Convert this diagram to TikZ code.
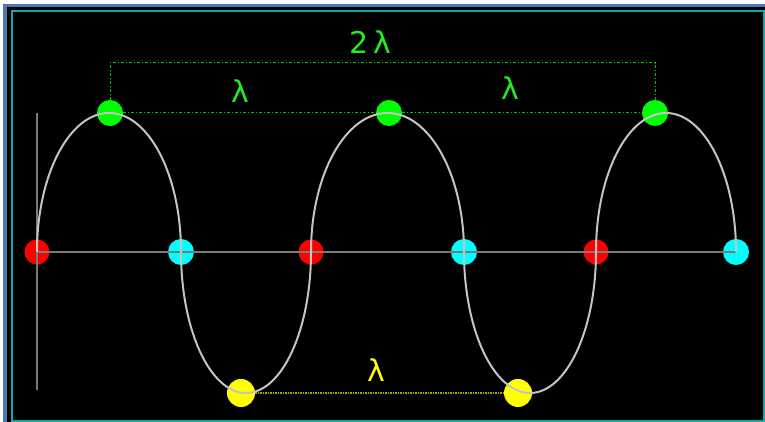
\documentclass[tikz,border=0pt]{standalone}
\usepackage{fontspec}
\newfontfamily\lamfont{DejaVu Sans}
\definecolor{frameblue}{HTML}{4A78B0}
\definecolor{framecyan}{HTML}{10A8A8}
\definecolor{curvegray}{HTML}{C4C4C4}
\definecolor{axisgray}{HTML}{7A7A7A}
\definecolor{dotred}{HTML}{FF0000}
\definecolor{dotcyan}{HTML}{00FFFF}
\definecolor{dotgreen}{HTML}{00FF00}
\definecolor{dotyellow}{HTML}{FFFF00}
\definecolor{linegreen}{HTML}{00C800}
\definecolor{lineyellow}{HTML}{A8A800}
\definecolor{txtgreen}{HTML}{22EE22}
\tikzset{
  dot/.style={circle,inner sep=0pt,minimum size=25pt},
  reddot/.style={dot,fill=dotred},
  cyandot/.style={dot,fill=dotcyan,minimum size=26pt},
  greendot/.style={dot,fill=dotgreen,minimum size=26pt},
  yellowdot/.style={dot,fill=dotyellow,minimum size=28pt},
  wave/.style={draw=curvegray,line width=2pt},
  axisline/.style={draw=axisgray,line width=1.3pt},
  gline/.style={draw=linegreen,line width=1pt,dash pattern=on 3pt off 2pt on 1pt off 2pt},
  yline/.style={draw=lineyellow,line width=1.2pt,dash pattern=on 1.5pt off 1pt},
  lbl/.style={font=\lamfont\fontsize{30}{30}\selectfont,inner sep=0pt},
}
\begin{document}
\begin{tikzpicture}[x=1pt,y=1pt]
\useasboundingbox (0,0) rectangle (765,422);
% frame
\fill[white] (0,0) rectangle (765,422);
\fill[frameblue] (3,0) rectangle (765,418);
\fill[black] (7,0) rectangle (765,415);
\draw[framecyan,line width=1.2pt] (12,1) rectangle (764,411);
% coordinates
\coordinate (top) at (0,359);
\coordinate (va) at (37,309);
\coordinate (vb) at (37,32);
% dots
\node[greendot] (g1) at (110,309) {};
\node[greendot] (g2) at (389,309) {};
\node[greendot] (g3) at (655,309) {};
\node[yellowdot] (y1) at (241,29) {};
\node[yellowdot] (y2) at (518,29) {};
% guides
\draw[gline] (g1.north) -- (g1 |- top) -- (g3 |- top) -- (g3.north);
\draw[gline] (g1.east) -- (g2.west);
\draw[gline] (g2.east) -- (g3.west);
\draw[yline] (y1.east) -- (y2.west);
\node[reddot] (r1) at (37,170) {};
\node[reddot] (r2) at (311,170) {};
\node[reddot] (r3) at (596,170) {};
\node[cyandot] (c1) at (181,170) {};
\node[cyandot] (c2) at (464,170) {};
\node[cyandot] (c3) at (736,170) {};
% axes
\draw[axisline] (r1.center) -- (c3.center);
\draw[axisline] (va) -- (vb);
% wave
\draw[wave] (r1.center)
  arc[start angle=180,end angle=0,x radius=72,y radius=139]
  arc[start angle=180,end angle=360,x radius=65,y radius=141]
  arc[start angle=180,end angle=0,x radius=76.5,y radius=139]
  arc[start angle=180,end angle=360,x radius=66,y radius=141]
  arc[start angle=180,end angle=0,x radius=70,y radius=139];
% labels
\node[lbl,text=txtgreen] (l2) at (370,380) {2\,λ};
\node[lbl,text=txtgreen] (la) at (240,331) {λ};
\node[lbl,text=txtgreen] (lb) at (510,334) {λ};
\node[lbl,text=dotyellow] (lc) at (376,52) {λ};
\end{tikzpicture}
\end{document}
